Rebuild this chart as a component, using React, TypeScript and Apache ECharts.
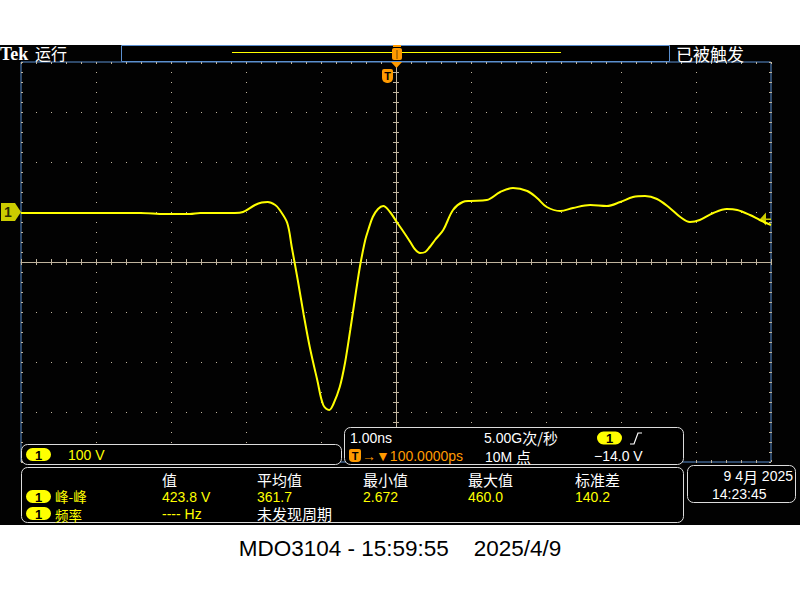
import React, { useEffect, useRef } from "react";
import * as echarts from "echarts";

// ---- data (time in ns, voltage in V) ----
const TIME_NS = [0, 0.52, 1.05, 1.59, 1.92, 2.25, 2.39, 2.85, 2.96, 3.12, 3.21, 3.29, 3.39, 3.45, 3.55, 3.61, 3.69, 3.77, 3.85, 3.95, 4.03, 4.11, 4.16, 4.25, 4.32, 4.39, 4.44, 4.49, 4.53, 4.59, 4.63, 4.69, 4.76, 4.83, 4.92, 5.01, 5.12, 5.19, 5.25, 5.32, 5.39, 5.45, 5.52, 5.63, 5.76, 5.89, 5.99, 6.21, 6.39, 6.56, 6.75, 6.88, 7.01, 7.19, 7.36, 7.59, 7.81, 7.99, 8.16, 8.32, 8.48, 8.65, 8.79, 8.92, 9.05, 9.23, 9.41, 9.55, 9.72, 9.85, 10];
const VOLTS = [-2, -2, -2, -2, -4, -4, -2, -2, 0, 14, 19, 20, 14, 4, -22, -70, -136, -206, -270, -336, -386, -396, -386, -350, -302, -236, -186, -136, -100, -56, -36, -10, 6, 12, 0, -20, -44, -60, -74, -82, -80, -70, -56, -36, 4, 20, 22, 24, 40, 48, 42, 28, 10, 2, 8, 14, 12, 20, 30, 32, 26, 8, -10, -20, -16, -2, 6, 4, -6, -16, -26];

const TIME_MIN = 0;
const TIME_MAX = 10;
const TIME_DIV = 1;
const VOLT_MIN = -500;
const VOLT_MAX = 300;
const VOLT_DIV = 100;
const GROUND_V = 0;
const TRIG_LEVEL_V = -14;

const MEAS_HEADERS = ["值", "平均值", "最小值", "最大值", "标准差"];
const PP_VALUES = ["423.8 V", "361.7", "2.672", "460.0", "140.2"];
const FREQ_VALUES = ["---- Hz", "未发现周期"];

// ---- styles ----
const YELLOW = "#ffff00";
const ORANGE = "#ff9a00";
const GRIDC = "#c0b49e";
const BLUE = "#5b8fcf";
const PANEL = "#dcdcdc";
const LATIN = '"Liberation Sans", Arial, sans-serif';
const CJK = '"Noto Sans CJK SC", "Liberation Sans", sans-serif';

const COLS = [162, 257, 363, 468, 575];

function txt(x: number, y: number, text: string, fill: string, fontSize: number, family = LATIN, extra: any = {}) {
  return {
    type: "text",
    x,
    y,
    z: extra.z || 110,
    style: {
      text,
      fill,
      fontSize,
      fontFamily: family,
      fontWeight: extra.weight || "normal",
      align: extra.align || "left",
      textAlign: extra.align || "left",
      verticalAlign: "middle",
      textVerticalAlign: "middle",
    },
  };
}

function panel(x: number, y: number, w: number, h: number) {
  return {
    type: "rect",
    z: 100,
    shape: { x, y, width: w, height: h, r: 6 },
    style: { fill: "#000", stroke: PANEL, lineWidth: 1 },
  };
}

function badge(x: number, y: number, w = 25, h = 13) {
  return [
    { type: "rect", z: 101, shape: { x, y, width: w, height: h, r: h / 2 }, style: { fill: YELLOW } },
    txt(x + w / 2, y + h / 2 + 0.5, "1", "#000", 13, LATIN, { weight: "bold", align: "center", z: 120 }),
  ];
}

function baseAxis(extra: any) {
  return {
    type: "value",
    gridIndex: 0,
    axisLine: { show: false, onZero: false },
    axisTick: { show: false },
    minorTick: { show: false },
    axisLabel: { show: false },
    splitLine: { show: false },
    ...extra,
  };
}

function tickSet(len: number, inside: boolean) {
  return {
    axisTick: { show: true, inside, length: len, lineStyle: { color: GRIDC, width: 1 } },
    minorTick: { show: true, splitNumber: 5, length: len, lineStyle: { color: GRIDC, width: 1 } },
  };
}

export default function App() {
  const ref = useRef<HTMLDivElement>(null);

  useEffect(() => {
    if (!ref.current) return;
    const chart = echarts.init(ref.current, undefined, { renderer: "svg" });

    const xr = { min: TIME_MIN, max: TIME_MAX, interval: TIME_DIV };
    const yr = { min: VOLT_MIN, max: VOLT_MAX, interval: VOLT_DIV };

    const richMix = { n: { fontSize: 14, fontFamily: LATIN, fill: "#fff" }, c: { fontSize: 15, fontFamily: CJK, fill: "#fff" } };

    const graphic: any[] = [
      // scope screen background
      { type: "rect", z: -1, shape: { x: 0, y: 45, width: 800, height: 480 }, style: { fill: "#020202" } },
      // top bar
      txt(0, 53.5, "Tek", "#ffffff", 18, '"Liberation Serif", serif', { weight: "bold" }),
      txt(35, 53, "运行", "#ffffff", 16, CJK),
      { type: "rect", z: 100, shape: { x: 121.5, y: 45.5, width: 548, height: 16 }, style: { fill: "#000", stroke: BLUE, lineWidth: 1 } },
      { type: "line", z: 101, shape: { x1: 232, y1: 52.5, x2: 561, y2: 52.5 }, style: { stroke: YELLOW, lineWidth: 1 } },
      { type: "rect", z: 102, shape: { x: 393, y: 45, width: 8, height: 2 }, style: { fill: ORANGE } },
      { type: "rect", z: 102, shape: { x: 392, y: 48, width: 10, height: 12, r: 2 }, style: { fill: ORANGE } },
      { type: "line", z: 103, shape: { x1: 397, y1: 50, x2: 397, y2: 59 }, style: { stroke: "#7a4a00", lineWidth: 1 } },
      txt(676, 53, "已被触发", "#ffffff", 17, CJK),
      // trigger position markers
      { type: "polygon", z: 102, shape: { points: [[391, 62], [402, 62], [396.5, 68]] }, style: { fill: ORANGE } },
      { type: "rect", z: 102, shape: { x: 382, y: 69, width: 11, height: 14, r: [2, 2, 5, 5] }, style: { fill: ORANGE } },
      txt(387.5, 75.5, "T", "#000", 11, LATIN, { weight: "bold", align: "center", z: 120 }),

      // channel panel
      panel(21.5, 444.5, 320, 20),
      ...badge(26, 448),
      txt(68, 455, "100 V", YELLOW, 14),

      // timebase panel
      panel(344.5, 427.5, 339, 37),
      txt(350, 438, "1.00ns", "#ffffff", 14),
      {
        type: "text", z: 110, x: 484, y: 437.5,
        style: { text: "{n|5.00G}{c|次/秒}", fill: "#fff", verticalAlign: "middle", textVerticalAlign: "middle", rich: richMix },
      },
      ...badge(597, 431.5),
      { type: "polyline", z: 101, shape: { points: [[630, 444], [634, 444], [638, 433], [642, 433]] }, style: { stroke: "#fff", lineWidth: 1.2, fill: null } },
      { type: "rect", z: 101, shape: { x: 349, y: 449, width: 12, height: 13, r: [2, 2, 4, 4] }, style: { fill: ORANGE } },
      txt(355, 455.5, "T", "#000", 11, LATIN, { weight: "bold", align: "center", z: 120 }),
      txt(362, 456, "→▼100.0000ps", ORANGE, 14),
      {
        type: "text", z: 110, x: 485, y: 456.5,
        style: { text: "{n|10M }{c|点}", fill: "#fff", verticalAlign: "middle", textVerticalAlign: "middle", rich: richMix },
      },
      txt(594, 456, "−14.0 V", "#ffffff", 14),

      // measurement panel
      panel(21.5, 467.5, 662, 55),
      ...MEAS_HEADERS.map((h, i) => txt(COLS[i], 479, h, "#ffffff", 15, CJK)),
      ...badge(26, 490),
      txt(55, 495.5, "峰-峰", YELLOW, 13.5, CJK),
      ...PP_VALUES.map((v, i) => txt(COLS[i], 496.5, v, YELLOW, 14)),
      ...badge(26, 507),
      txt(55, 515, "频率", YELLOW, 13.5, CJK),
      txt(COLS[0], 513.5, FREQ_VALUES[0], YELLOW, 14),
      txt(COLS[1], 513.5, FREQ_VALUES[1], "#ffffff", 15, CJK),

      // date panel
      panel(687.5, 465.5, 108, 37),
      {
        type: "text", z: 110, x: 793, y: 476,
        style: { text: "{n|9 4}{c|月}{n| 2025}", fill: "#fff", align: "right", textAlign: "right", verticalAlign: "middle", textVerticalAlign: "middle", rich: richMix },
      },
      txt(712, 494, "14:23:45", "#ffffff", 14),

      // caption
      txt(400, 548, "MDO3104 - 15:59:55    2025/4/9", "#000000", 22.5, LATIN, { align: "center" }),
    ];

    chart.setOption({
      animation: false,
      grid: {
        left: 21,
        top: 62,
        width: 750,
        height: 400,
        show: true,
        backgroundColor: "transparent",
        borderColor: BLUE,
        borderWidth: 1,
      },
      xAxis: [
        baseAxis({ ...xr, position: "bottom", splitLine: { show: true, lineStyle: { color: GRIDC, width: 1, type: [1, 9] } }, ...tickSet(2, true) }),
        baseAxis({ ...xr, position: "top", ...tickSet(2, true) }),
        baseAxis({ ...xr, position: "bottom", offset: -200, axisLine: { show: true, onZero: false, lineStyle: { color: GRIDC, width: 1 } }, ...tickSet(3, true) }),
        baseAxis({ ...xr, position: "bottom", offset: -200, ...tickSet(3, false) }),
      ],
      yAxis: [
        baseAxis({ ...yr, position: "left", splitLine: { show: true, lineStyle: { color: GRIDC, width: 1, type: [1, 14] } }, ...tickSet(2, true) }),
        baseAxis({ ...yr, position: "right", ...tickSet(2, true) }),
        baseAxis({ ...yr, position: "left", offset: -375, axisLine: { show: true, onZero: false, lineStyle: { color: GRIDC, width: 1 } }, ...tickSet(3, true) }),
        baseAxis({ ...yr, position: "left", offset: -375, ...tickSet(3, false) }),
      ],
      series: [
        {
          type: "line",
          name: "CH1",
          xAxisIndex: 0,
          yAxisIndex: 0,
          data: TIME_NS.map((t, i) => [t, VOLTS[i]]),
          showSymbol: false,
          smooth: 0.35,
          lineStyle: { color: YELLOW, width: 2 },
          z: 5,
        },
        {
          type: "scatter",
          name: "ground",
          xAxisIndex: 0,
          yAxisIndex: 0,
          clip: false,
          data: [[TIME_MIN, GROUND_V]],
          symbol: "path://M0,0 L14,0 L20,9 L14,18 L0,18 Z",
          symbolSize: [20, 18],
          symbolOffset: [-10, 0],
          itemStyle: { color: YELLOW },
          label: { show: true, formatter: "1", position: "inside", offset: [-3, 0], color: "#000", fontWeight: "bold", fontSize: 14, fontFamily: LATIN },
          z: 6,
        },
        {
          type: "scatter",
          name: "trigger level",
          xAxisIndex: 0,
          yAxisIndex: 0,
          clip: false,
          data: [[TIME_MAX, TRIG_LEVEL_V]],
          symbol: "path://M0,6.5 L6,0 L6,13 Z M6,6 L11,6 L11,7.5 L6,7.5 Z",
          symbolSize: [11, 13],
          symbolOffset: [-5.5, 0],
          itemStyle: { color: YELLOW },
          z: 6,
        },
      ],
      graphic,
    });

    return () => chart.dispose();
  }, []);

  return <div ref={ref} style={{ position: "absolute", left: 0, top: 0, width: 800, height: 600 }} />;
}
